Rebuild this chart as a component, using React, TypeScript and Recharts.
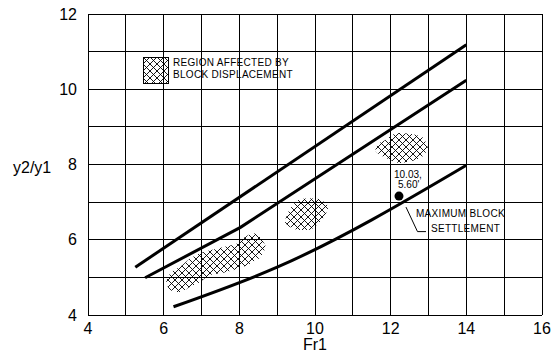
import React from 'react';
import {
  ComposedChart, Line, Area, Scatter, XAxis, YAxis, CartesianGrid, Legend,
} from 'recharts';

const FONT = '"Liberation Sans", Arial, sans-serif';

// Envelope lines (Fr1, y2/y1)
const upperLine = [
  { x: 5.25, y: 5.27 },
  { x: 14.0, y: 11.18 },
];
const middleLine = [
  { x: 5.51, y: 4.99 },
  { x: 8.03, y: 6.33 },
  { x: 14.0, y: 10.24 },
];
const lowerLine = [
  { x: 6.26, y: 4.22 },
  { x: 9.0, y: 5.27 },
  { x: 14.0, y: 7.98 },
];

// Regions affected by block displacement: [low, high] per Fr1
const region1 = [
  { x: 6.07, r: [4.86, 4.9] },
  { x: 6.17, r: [4.66, 5.1] },
  { x: 6.44, r: [4.61, 5.28] },
  { x: 6.7, r: [4.75, 5.5] },
  { x: 6.97, r: [4.88, 5.64] },
  { x: 7.23, r: [5.06, 5.72] },
  { x: 7.58, r: [5.12, 5.81] },
  { x: 7.94, r: [5.22, 5.9] },
  { x: 8.16, r: [5.3, 6.08] },
  { x: 8.38, r: [5.42, 6.17] },
  { x: 8.56, r: [5.55, 6.05] },
  { x: 8.69, r: [5.77, 5.85] },
];
const region2 = [
  { x: 9.21, r: [6.45, 6.52] },
  { x: 9.3, r: [6.36, 6.75] },
  { x: 9.43, r: [6.3, 6.93] },
  { x: 9.56, r: [6.26, 7.06] },
  { x: 9.83, r: [6.26, 7.1] },
  { x: 10.09, r: [6.44, 7.08] },
  { x: 10.27, r: [6.66, 6.98] },
  { x: 10.36, r: [6.88, 6.89] },
];
const region3 = [
  { x: 11.6, r: [8.36, 8.45] },
  { x: 11.66, r: [8.3, 8.53] },
  { x: 11.88, r: [8.17, 8.66] },
  { x: 12.05, r: [8.09, 8.79] },
  { x: 12.23, r: [8.04, 8.84] },
  { x: 12.5, r: [8.08, 8.82] },
  { x: 12.85, r: [8.22, 8.72] },
  { x: 12.98, r: [8.42, 8.46] },
];

// Maximum block settlement point
const settlement = [{ x: 12.22, y: 7.16 }];
const settlementLabel = ['10.03,', "5.60'"];
const settlementNote = ['MAXIMUM BLOCK', 'SETTLEMENT'];
const legendLines = ['REGION AFFECTED BY', 'BLOCK DISPLACEMENT'];

const xTicks = [4, 5, 6, 7, 8, 9, 10, 11, 12, 13, 14, 15, 16];
const yTicks = [4, 5, 6, 7, 8, 9, 10, 11, 12];

const evenOnly = (v: number) => (v % 2 === 0 ? String(v) : '');

const HatchDefs = () => (
  <defs>
    <pattern id="hatch" patternUnits="userSpaceOnUse" width="7" height="7">
      <path d="M0,0 L7,7 M7,0 L0,7" stroke="#000" strokeWidth="0.9" />
    </pattern>
  </defs>
);

const SettlementShape = (props: any) => {
  const { cx, cy } = props;
  if (cx == null || cy == null) return null;
  return (
    <g>
      <circle cx={cx} cy={cy} r={4.5} fill="#000" />
      <text x={cx - 5} y={cy - 18} fontSize={10} fontFamily={FONT} fill="#000">{settlementLabel[0]}</text>
      <text x={cx - 1} y={cy - 8} fontSize={10} fontFamily={FONT} fill="#000">{settlementLabel[1]}</text>
      <polyline
        points={`${cx + 7},${cy + 11} ${cx + 18.5},${cy + 35.5} ${cx + 27},${cy + 35.5}`}
        fill="none" stroke="#000" strokeWidth={1}
      />
      <text x={cx + 17} y={cy + 21} fontSize={10} fontFamily={FONT} letterSpacing={0.3} fill="#000">{settlementNote[0]}</text>
      <text x={cx + 32} y={cy + 36} fontSize={10} fontFamily={FONT} letterSpacing={0.3} fill="#000">{settlementNote[1]}</text>
    </g>
  );
};

const LegendContent = () => (
  <div style={{ display: 'flex', alignItems: 'flex-start' }}>
    <svg width={26} height={27} style={{ display: 'block' }}>
      <defs>
        <pattern id="hatchLegend" patternUnits="userSpaceOnUse" width="7" height="7">
          <path d="M0,0 L7,7 M7,0 L0,7" stroke="#000" strokeWidth="0.9" />
        </pattern>
      </defs>
      <rect x={0.5} y={0.5} width={25} height={26} fill="url(#hatchLegend)" stroke="#000" strokeWidth={1} />
    </svg>
    <div style={{ marginLeft: 4, fontFamily: FONT, fontSize: 10, lineHeight: '12px', letterSpacing: 0.3, color: '#000', whiteSpace: 'nowrap' }}>
      <div>{legendLines[0]}</div>
      <div>{legendLines[1]}</div>
    </div>
  </div>
);

export default function App() {
  return (
    <div style={{ position: 'absolute', left: 0, top: 0, width: 556, height: 359, background: '#fff' }}>
      <style>{`.recharts-cartesian-grid line, .recharts-cartesian-axis-line { shape-rendering: crispEdges; }`}</style>
      <ComposedChart width={556} height={359} margin={{ top: 14, right: 14, left: 0, bottom: 0 }}>
        <HatchDefs />
        <CartesianGrid stroke="#000" strokeWidth={1} />
        <XAxis
          dataKey="x" type="number" domain={[4, 16]} ticks={xTicks} interval={0}
          tickFormatter={evenOnly} tickLine={false} tickMargin={2} height={44}
          axisLine={{ stroke: '#000' }}
          tick={{ fill: '#000', fontSize: 16, fontFamily: FONT }}
          label={{ value: 'Fr1', position: 'insideBottom', offset: 9, fill: '#000', fontSize: 16, fontFamily: FONT }}
        />
        <YAxis
          type="number" domain={[4, 12]} ticks={yTicks} interval={0}
          tickFormatter={evenOnly} tickLine={false} tickMargin={5} width={88}
          axisLine={{ stroke: '#000' }}
          tick={{ fill: '#000', fontSize: 16, fontFamily: FONT }}
          label={{ value: 'y2/y1', position: 'insideLeft', offset: 13, dy: 3, fill: '#000', fontSize: 16, fontFamily: FONT }}
        />
        <Legend layout="vertical" align="center" verticalAlign="middle" content={LegendContent}
          wrapperStyle={{ left: 143, top: 57, width: 'auto' }} />
        <Area data={region1} dataKey="r" type="monotone" stroke="none" fill="url(#hatch)" fillOpacity={1} isAnimationActive={false} />
        <Area data={region2} dataKey="r" type="monotone" stroke="none" fill="url(#hatch)" fillOpacity={1} isAnimationActive={false} />
        <Area data={region3} dataKey="r" type="monotone" stroke="none" fill="url(#hatch)" fillOpacity={1} isAnimationActive={false} />
        <Line data={upperLine} dataKey="y" type="linear" stroke="#000" strokeWidth={3} dot={false} isAnimationActive={false} />
        <Line data={middleLine} dataKey="y" type="linear" stroke="#000" strokeWidth={3} dot={false} isAnimationActive={false} />
        <Line data={lowerLine} dataKey="y" type="monotone" stroke="#000" strokeWidth={3} dot={false} isAnimationActive={false} />
        <Scatter data={settlement} dataKey="y" shape={SettlementShape} isAnimationActive={false} />
      </ComposedChart>
    </div>
  );
}
